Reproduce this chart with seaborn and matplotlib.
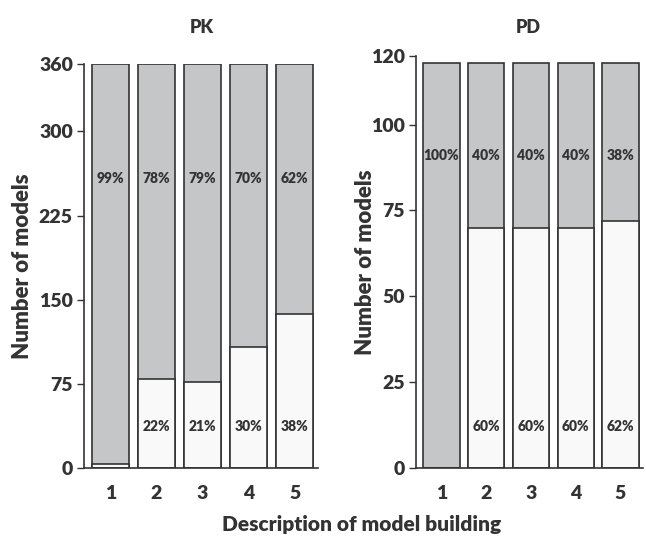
import matplotlib
matplotlib.use('Agg')
import matplotlib.pyplot as plt
import seaborn as sns
import pandas as pd

# data
steps = ['1', '2', '3', '4', '5']
pk_total = [360, 360, 360, 360, 360]
pk_lower = [4, 79, 77, 108, 137]
pk_upper_pct = ['99%', '78%', '79%', '70%', '62%']
pk_lower_pct = ['', '22%', '21%', '30%', '38%']

pd_total = [118, 118, 118, 118, 118]
pd_lower = [0, 70, 70, 70, 72]
pd_upper_pct = ['100%', '40%', '40%', '40%', '38%']
pd_lower_pct = ['', '60%', '60%', '60%', '62%']

sns.set_theme(style='white')
plt.rcParams['font.family'] = ['Lato', 'DejaVu Sans']

GREY = '#c5c6c8'
WHITE = '#f9f9f9'
INK = '#333333'
W = 'heavy'

fig = plt.figure(figsize=(6.46, 5.38), dpi=100)
ax1 = fig.add_axes([0.130, 0.130, 0.362, 0.751])
ax2 = fig.add_axes([0.644, 0.130, 0.351, 0.766])


def draw(ax, total, lower, up_pct, lo_pct, ymax, yticks, up_y, lo_y,
         title, tx, lpad):
    df = pd.DataFrame({'step': steps, 'total': total, 'lower': lower})
    sns.barplot(data=df, x='step', y='total', color=GREY, saturation=1,
                edgecolor=INK, linewidth=1.2, width=0.81, ax=ax)
    sns.barplot(data=df, x='step', y='lower', color=WHITE, saturation=1,
                edgecolor=INK, linewidth=1.2, width=0.81, ax=ax)
    for i, (u, l) in enumerate(zip(up_pct, lo_pct)):
        ax.text(i, up_y, u, ha='center', va='center', fontsize=10,
                fontweight=W, color=INK)
        if l:
            ax.text(i, lo_y, l, ha='center', va='center', fontsize=10,
                    fontweight=W, color=INK)
    ax.set_ylim(0, ymax)
    ax.set_xlim(-0.57, 4.5)
    ax.set_yticks(yticks)
    ax.set_yticklabels([str(t) for t in yticks], fontsize=14,
                       fontweight=W, color=INK)
    ax.set_xticks(range(5))
    ax.set_xticklabels(steps, fontsize=14, fontweight=W, color=INK)
    ax.tick_params(axis='y', direction='out', length=5, width=1,
                   color=INK, left=True, pad=3)
    ax.tick_params(axis='x', length=0, pad=12)
    ax.set_xlabel('')
    ax.set_ylabel('Number of models', fontsize=16, fontweight=W,
                  color=INK, labelpad=lpad)
    fig.text(tx, 0.948, title, ha='center', va='center', fontsize=13,
             fontweight=W, color=INK)
    sns.despine(ax=ax)
    for s in ['left', 'bottom']:
        ax.spines[s].set_color(INK)
        ax.spines[s].set_linewidth(1.2)


draw(ax1, pk_total, pk_lower, pk_upper_pct, pk_lower_pct, 360,
     [0, 75, 150, 225, 300, 360], 258, 37, 'PK', 0.312, 4)
draw(ax2, pd_total, pd_lower, pd_upper_pct, pd_lower_pct, 120,
     [0, 25, 50, 75, 100, 120], 91, 12, 'PD', 0.817, -4)

fig.text(0.56, 0.008, 'Description of model building', ha='center',
         va='bottom', fontsize=15, fontweight=W, color=INK)

fig.savefig('out.png', dpi=100)
